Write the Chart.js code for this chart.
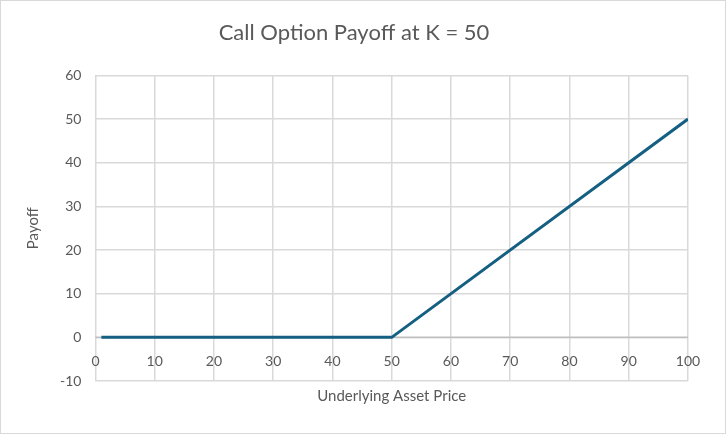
<!DOCTYPE html>
<html>
<head>
<meta charset="utf-8">
<script src="https://cdn.jsdelivr.net/npm/chart.js@4.4.1/dist/chart.umd.min.js"></script>
<style>
  html, body { margin: 0; padding: 0; background: #fff; }
  #wrap { width: 724px; height: 432px; border: 1px solid #d9d9d9; position: relative; }
</style>
</head>
<body>
<div id="wrap"><canvas id="payoff"></canvas></div>
<script>
// DATA
const assetPrices = [1, 50, 100];
const payoffs = [0, 0, 50];
const xTicks = [0, 10, 20, 30, 40, 50, 60, 70, 80, 90, 100];
const yTicks = [-10, 0, 10, 20, 30, 40, 50, 60];

const TEXT = '#595959';
const GRID = '#d9d9d9';
const FONT = 'Lato';

const points = assetPrices.map((x, i) => ({ x, y: payoffs[i] }));

// darker horizontal axis line at y = 0
const zeroLine = {
  id: 'zeroLine',
  beforeDatasetsDraw(chart) {
    const { ctx, chartArea, scales } = chart;
    const y = scales.y.getPixelForValue(0);
    ctx.save();
    ctx.strokeStyle = '#bfbfbf';
    ctx.lineWidth = 1.5;
    ctx.beginPath();
    ctx.moveTo(chartArea.left, y);
    ctx.lineTo(chartArea.right, y);
    ctx.stroke();
    ctx.restore();
  }
};

new Chart(document.getElementById('payoff'), {
  type: 'line',
  data: {
    datasets: [{
      label: 'Payoff',
      data: points,
      borderColor: '#156082',
      borderWidth: 3,
      pointRadius: 0,
      tension: 0,
      fill: false
    }]
  },
  options: {
    responsive: true,
    maintainAspectRatio: false,
    animation: false,
    layout: { padding: { left: 19, right: 37, top: 8, bottom: 8 } },
    plugins: {
      legend: { display: false },
      tooltip: { enabled: false },
      title: {
        display: true,
        text: 'Call Option Payoff at K = 50',
        color: TEXT,
        font: { family: FONT, size: 22, weight: 'normal' },
        padding: { top: 11, bottom: 29 }
      }
    },
    scales: {
      x: {
        type: 'linear',
        min: 0,
        max: 100,
        afterBuildTicks: s => { s.ticks = xTicks.map(v => ({ value: v })); },
        ticks: { display: false },
        grid: { color: GRID, lineWidth: 1.5, drawTicks: false },
        border: { display: false },
        title: {
          display: true,
          text: 'Underlying Asset Price',
          color: TEXT,
          font: { family: FONT, size: 15 },
          padding: { top: 6, bottom: 20 }
        }
      },
      x2: {
        type: 'linear',
        position: { y: 0 },
        min: 0,
        max: 100,
        afterBuildTicks: s => { s.ticks = xTicks.map(v => ({ value: v })); },
        ticks: { color: TEXT, font: { family: FONT, size: 14 }, padding: 8, maxRotation: 0 },
        grid: { display: false },
        border: { display: false }
      },
      y: {
        min: -10,
        max: 60,
        afterBuildTicks: s => { s.ticks = yTicks.map(v => ({ value: v })); },
        ticks: { color: TEXT, font: { family: FONT, size: 14 }, padding: 14 },
        grid: { color: GRID, lineWidth: 1.5, drawTicks: false },
        border: { display: false },
        title: {
          display: true,
          text: 'Payoff',
          color: TEXT,
          font: { family: FONT, size: 15 },
          padding: { bottom: 4 }
        }
      }
    }
  },
  plugins: [zeroLine]
});
</script>
</body>
</html>
